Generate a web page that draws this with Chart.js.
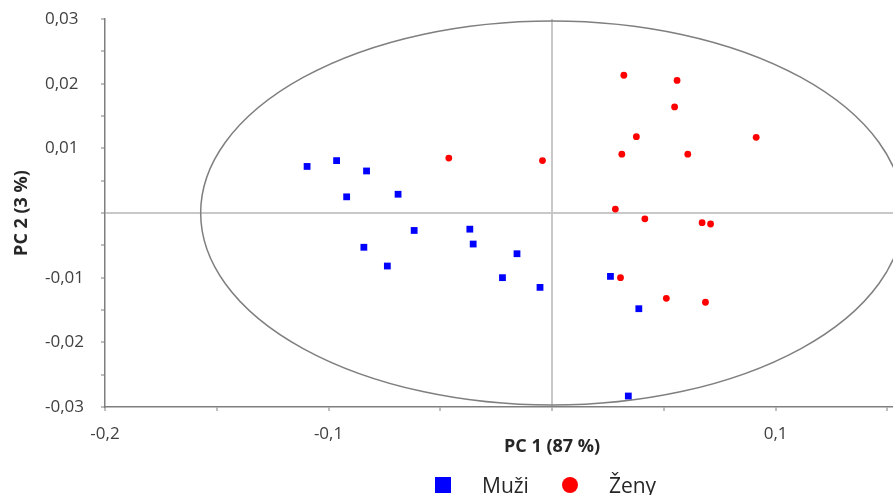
<!DOCTYPE html>
<html>
<head>
<meta charset="utf-8">
<script src="https://cdn.jsdelivr.net/npm/chart.js@4/dist/chart.umd.min.js"></script>
<style>
  body { margin: 0; background: #fff; }
  #wrap { position: relative; width: 893px; height: 495px; }
  #legend { position: absolute; left: 435px; top: 471px; display: flex; align-items: center;
    font-family: "Open Sans", sans-serif; font-size: 21px; color: #262626; }
  #legend span.box { display: inline-block; width: 16px; height: 16px; margin-right: 31px; }
  #legend span.txt { margin-right: 33px; }
</style>
</head>
<body>
<div id="wrap">
  <canvas id="pcaChart" width="893" height="495"></canvas>
  <div id="legend"></div>
</div>
<script>
const seriesNames = ["Muži", "Ženy"];
const seriesColors = ["#0000ff", "#ff0000"];

// PC1 / PC2 scores
const muziX = [-0.1096, -0.0964, -0.0830, -0.0919, -0.0689, -0.0617, -0.0368, -0.0353,
  -0.0842, -0.0157, -0.0737, -0.0222, -0.0054, 0.0261, 0.0388, 0.0341];
const muziY = [0.0072, 0.0081, 0.0065, 0.0025, 0.0029, -0.0027, -0.0025, -0.0048,
  -0.0053, -0.0063, -0.0082, -0.0100, -0.0115, -0.0098, -0.0148, -0.0283];
const zenyX = [-0.0462, -0.0043, 0.0321, 0.0559, 0.0548, 0.0377, 0.0913, 0.0312,
  0.0607, 0.0283, 0.0415, 0.0671, 0.0709, 0.0306, 0.0511, 0.0686];
const zenyY = [0.0085, 0.0081, 0.0213, 0.0205, 0.0164, 0.0118, 0.0117, 0.0091,
  0.0091, 0.0006, -0.0009, -0.0015, -0.0017, -0.0100, -0.0132, -0.0138];

// Hotelling ellipse (center, radii in data units)
const ellipseCenter = [0, 0];
const ellipseRadii = [0.1572, 0.0297];

const xTicks = [-0.2, -0.15, -0.1, -0.05, 0, 0.05, 0.1, 0.15];
const xLabeled = [-0.2, -0.1, 0.1];
const yTicks = [-0.03, -0.025, -0.02, -0.015, -0.01, -0.005, 0, 0.005, 0.01, 0.015, 0.02, 0.025, 0.03];
const yLabeled = [-0.03, -0.02, -0.01, 0.01, 0.02, 0.03];
const xMin = -0.2, xMax = 0.1525, yMin = -0.03, yMax = 0.03;

const xTitle = "PC 1 (87 %)";
const yTitle = "PC 2 (3 %)";

function fmt(v) {
  return String(v).replace(".", ",");
}
function isIn(list, v) {
  return list.some(t => Math.abs(t - v) < 1e-9);
}

const ellipsePlugin = {
  id: "ellipse",
  beforeDatasetsDraw(chart) {
    const { ctx, chartArea, scales } = chart;
    const cx = scales.x.getPixelForValue(ellipseCenter[0]);
    const cy = scales.y.getPixelForValue(ellipseCenter[1]);
    const rx = scales.x.getPixelForValue(ellipseCenter[0] + ellipseRadii[0]) - cx;
    const ry = cy - scales.y.getPixelForValue(ellipseCenter[1] + ellipseRadii[1]);
    ctx.save();
    ctx.beginPath();
    ctx.rect(chartArea.left, chartArea.top - 2, chartArea.width, chartArea.height + 4);
    ctx.clip();
    ctx.beginPath();
    ctx.ellipse(cx, cy, rx, ry, 0, 0, Math.PI * 2);
    ctx.strokeStyle = "#7f7f7f";
    ctx.lineWidth = 1.5;
    ctx.stroke();
    ctx.restore();
  }
};

const titlesPlugin = {
  id: "axisTitles",
  afterDraw(chart) {
    const { ctx, scales } = chart;
    ctx.save();
    ctx.fillStyle = "#262626";
    ctx.font = "bold 18px 'Open Sans', sans-serif";
    ctx.textAlign = "center";
    ctx.textBaseline = "middle";
    ctx.fillText(xTitle, scales.x.getPixelForValue(0), 447);
    ctx.translate(22, scales.y.getPixelForValue(0));
    ctx.rotate(-Math.PI / 2);
    ctx.fillText(yTitle, 0, 0);
    ctx.restore();
  }
};

const gridColor = c => (c.tick && Math.abs(c.tick.value) < 1e-9 ? "#c8c8c8" : "rgba(0,0,0,0)");

new Chart(document.getElementById("pcaChart").getContext("2d"), {
  type: "scatter",
  data: {
    datasets: [
      {
        label: seriesNames[0],
        data: muziX.map((x, i) => ({ x, y: muziY[i] })),
        pointStyle: "rect",
        pointRadius: 4.8,
        backgroundColor: seriesColors[0],
        borderColor: seriesColors[0],
        borderWidth: 0
      },
      {
        label: seriesNames[1],
        data: zenyX.map((x, i) => ({ x, y: zenyY[i] })),
        pointStyle: "circle",
        pointRadius: 3.4,
        backgroundColor: seriesColors[1],
        borderColor: seriesColors[1],
        borderWidth: 0
      }
    ]
  },
  options: {
    responsive: false,
    animation: false,
    layout: { autoPadding: false, padding: { left: 45, top: 19, right: 0, bottom: 0 } },
    plugins: { legend: { display: false }, tooltip: { enabled: false } },
    scales: {
      x: {
        type: "linear",
        min: xMin,
        max: xMax,
        afterBuildTicks: s => { s.ticks = xTicks.map(v => ({ value: v })); },
        afterFit: s => { s.height = 88; s.paddingLeft = 0; s.paddingRight = 0; },
        border: { color: "#7f7f7f", width: 1.5 },
        grid: { color: gridColor, lineWidth: 2, tickColor: "#7f7f7f", tickLength: 4, tickWidth: 1 },
        ticks: {
          autoSkip: false,
          maxRotation: 0,
          padding: 13,
          color: "#404040",
          font: { family: "'Open Sans', sans-serif", size: 17 },
          callback: v => (isIn(xLabeled, v) ? fmt(v) : "")
        }
      },
      y: {
        type: "linear",
        min: yMin,
        max: yMax,
        afterBuildTicks: s => { s.ticks = yTicks.map(v => ({ value: v })); },
        afterFit: s => { s.width = 60; },
        border: { color: "#7f7f7f", width: 1.5 },
        grid: { color: gridColor, lineWidth: 2, tickColor: "#7f7f7f", tickLength: 4, tickWidth: 1 },
        ticks: {
          autoSkip: false,
          crossAlign: "far",
          color: "#404040",
          font: { family: "'Open Sans', sans-serif", size: 17 },
          callback: v => (isIn(yLabeled, v) ? fmt(v) : "")
        }
      }
    }
  },
  plugins: [ellipsePlugin, titlesPlugin]
});

const legend = document.getElementById("legend");
seriesNames.forEach((name, i) => {
  const box = document.createElement("span");
  box.className = "box";
  box.style.background = seriesColors[i];
  if (i === 1) box.style.borderRadius = "50%";
  const txt = document.createElement("span");
  txt.className = "txt";
  txt.textContent = name;
  legend.appendChild(box);
  legend.appendChild(txt);
});
</script>
</body>
</html>
